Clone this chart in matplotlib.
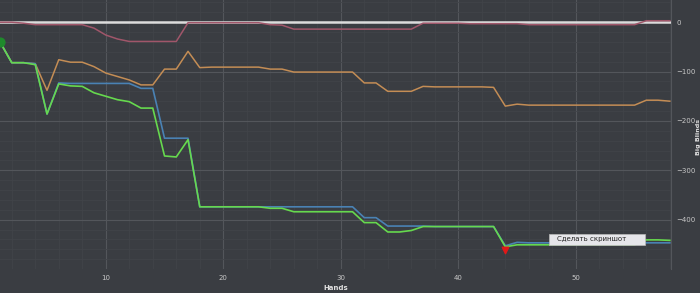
import matplotlib
matplotlib.use('Agg')
import matplotlib.pyplot as plt
from matplotlib.patches import Rectangle
from matplotlib.ticker import MultipleLocator

hands = list(range(1, 59))

red = [0, 0, -2, -5, -5, -5, -5, -5, -12, -26,
       -34, -39, -39, -39, -39, -39, -1, -1, -1, -1,
       -1, -1, -1, -5, -6, -14, -14, -14, -14, -14,
       -14, -14, -14, -14, -14, -14, -2, -2, -2, -2,
       -3, -3, -3, -3, -3, -5, -5, -5, -5, -5,
       -5, -5, -5, -5, -5, 3, 3, 3]

orange = [-40, -82, -82, -84, -138, -76, -81, -81, -90, -103,
          -110, -117, -127, -127, -95, -95, -59, -92, -91, -91,
          -91, -91, -91, -95, -95, -101, -101, -101, -101, -101,
          -101, -123, -123, -140, -140, -140, -130, -131, -131, -131,
          -131, -131, -132, -170, -166, -168, -168, -168, -168, -168,
          -168, -168, -168, -168, -168, -158, -158, -160]

blue = [-40, -82, -82, -84, -186, -123, -124, -124, -124, -124,
        -124, -124, -134, -134, -235, -235, -235, -374, -374, -374,
        -374, -374, -374, -374, -374, -374, -374, -374, -374, -374,
        -374, -396, -396, -413, -413, -413, -413, -414, -414, -414,
        -414, -414, -414, -453, -446, -447, -447, -447, -447, -447,
        -447, -447, -447, -447, -447, -447, -447, -447]

green = [-40, -82, -82, -86, -186, -125, -129, -130, -143, -150,
         -157, -161, -174, -174, -271, -273, -238, -374, -374, -374,
         -374, -374, -374, -377, -377, -384, -384, -384, -384, -384,
         -384, -406, -406, -425, -425, -422, -414, -414, -414, -414,
         -414, -414, -414, -455, -451, -451, -451, -451, -451, -451,
         -451, -451, -451, -451, -451, -441, -441, -442]

start_point = (1, -40)
marker_point = (44, -462)
menu_text = 'Сделать скриншот'

bg = '#3a3d42'
fig = plt.figure(figsize=(7, 2.93), dpi=100, facecolor=bg)
ax = fig.add_axes([0, 24 / 293, 671 / 700, 269 / 293])
ax.set_facecolor(bg)

ax.axhline(0, color='#dcdcdc', lw=1.8, zorder=3)
ax.plot(hands, red, color='#a0566a', lw=1.1, zorder=4)
ax.plot(hands, orange, color='#c48d55', lw=1.1, zorder=4)
ax.plot(hands, blue, color='#4a82b4', lw=1.2, zorder=4)
ax.plot(hands, green, color='#66d94e', lw=1.2, zorder=5)
ax.scatter([start_point[0]], [start_point[1]], s=40, color='#1f8a2c', zorder=6)
ax.scatter([marker_point[0]], [marker_point[1]], s=22, marker='v', color='#e01818', zorder=6)

ax.set_xlim(1, 58.1)
ax.set_ylim(-500, 45)
ax.set_xticks([10, 20, 30, 40, 50])
ax.set_yticks([0, -100, -200, -300, -400])
ax.xaxis.set_minor_locator(MultipleLocator(2))
ax.yaxis.set_minor_locator(MultipleLocator(20))
ax.yaxis.tick_right()
ax.yaxis.set_label_position('right')
ax.grid(which='major', color='#53565b', lw=0.8)
ax.grid(which='minor', color='#414449', lw=0.6)
ax.set_axisbelow(True)
ax.tick_params(which='both', length=0, labelsize=5, labelcolor='#c8c8c8')
ax.tick_params(axis='y', pad=4)
ax.tick_params(axis='x', pad=4)
for s in ax.spines.values():
    s.set_visible(False)
ax.spines['right'].set_visible(True)
ax.spines['right'].set_color('#53565b')
ax.set_xlabel('Hands', fontsize=5, color='#e0e0e0', fontweight='bold', labelpad=3)
ax.set_ylabel('Big Blinds', fontsize=4.6, color='#e0e0e0', fontweight='bold')
ax.yaxis.set_label_coords(1.038, 0.49)

# context menu overlay
ax.add_patch(Rectangle((549 / 671, 24 / 269), 96 / 671, 11.5 / 269, transform=ax.transAxes,
                       facecolor='#e6e6ea', edgecolor='#bbbbbb', lw=0.5, zorder=8, clip_on=False))
ax.text(592 / 671, 29.5 / 269, menu_text, transform=ax.transAxes, fontsize=5,
        color='#222222', ha='center', va='center', zorder=9)

fig.savefig('out.png', dpi=100, facecolor=bg)
